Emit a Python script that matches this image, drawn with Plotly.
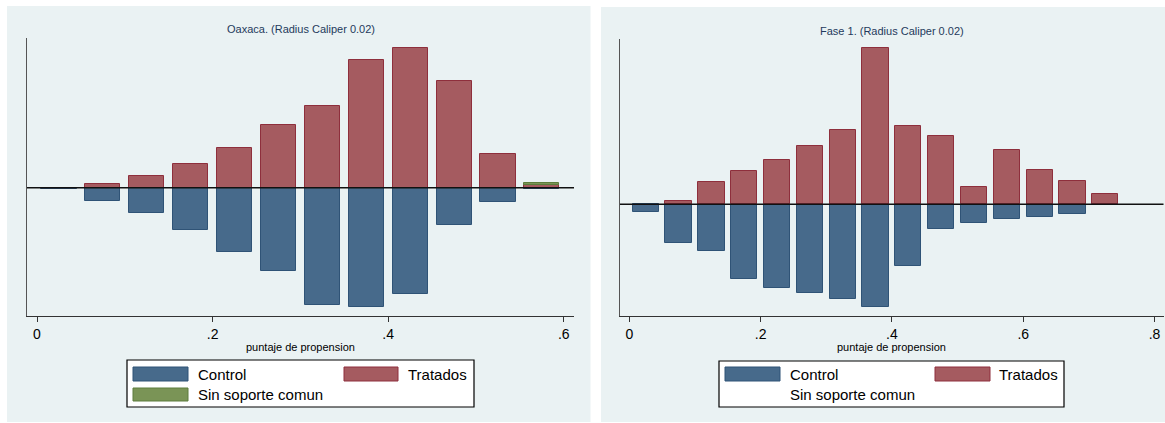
import plotly.graph_objects as go

W, H = 1165, 423

# ---------------- data ----------------
bins_oax = [0.025, 0.075, 0.125, 0.175, 0.225, 0.275, 0.325, 0.375, 0.425, 0.475, 0.525, 0.575]
trat_oax = [0, 10, 34, 70, 118, 189, 245, 384, 420, 321, 101, 7]
ctrl_oax = [5, 41, 75, 126, 192, 250, 351, 357, 318, 112, 43, 4]
sin_oax = [0, 0, 0, 0, 0, 0, 0, 0, 0, 0, 0, 7]

bins_f1 = [0.025, 0.075, 0.125, 0.175, 0.225, 0.275, 0.325, 0.375, 0.425, 0.475,
           0.525, 0.575, 0.625, 0.675, 0.725]
trat_f1 = [0, 9, 67, 98, 133, 174, 222, 467, 235, 204, 52, 163, 102, 70, 30]
ctrl_f1 = [23, 117, 141, 225, 252, 267, 285, 307, 185, 74, 56, 44, 38, 30, 3]

ticks_oax = [0, 0.2, 0.4, 0.6]
ticklab_oax = ["0", ".2", ".4", ".6"]
ticks_f1 = [0, 0.2, 0.4, 0.6, 0.8]
ticklab_f1 = ["0", ".2", ".4", ".6", ".8"]

title_oax = "Oaxaca. (Radius Caliper 0.02)"
title_f1 = "Fase 1. (Radius Caliper 0.02)"
xlabel = "puntaje de propension"

# ---------------- style ----------------
FONT = "Arial, Liberation Sans, sans-serif"
C_CTRL, L_CTRL = "#476a8b", "#2f5376"
C_TRAT, L_TRAT = "#a55b60", "#8e2f3c"
C_SIN, L_SIN = "#7a9456", "#5c7d3c"
PANEL = "#eaf2f3"
TITLE_C = "#1f3a5c"


def px(x):
    return x / W


def py(y):
    return 1 - y / H


def nonzero(xs, ys, sign=1):
    pts = [(x, sign * y) for x, y in zip(xs, ys) if y != 0]
    return [p[0] for p in pts], [p[1] for p in pts]


fig = go.Figure()


def add_bars(xs, ys, sign, color, line, xa, ya):
    bx, by = nonzero(xs, ys, sign)
    fig.add_trace(go.Bar(x=bx, y=by, width=0.04, xaxis=xa, yaxis=ya,
                         marker=dict(color=color, line=dict(color=line, width=1)),
                         showlegend=False))


# left panel
add_bars(bins_oax, ctrl_oax, -1, C_CTRL, L_CTRL, "x", "y")
add_bars(bins_oax, trat_oax, 1, C_TRAT, L_TRAT, "x", "y")
add_bars(bins_oax, sin_oax, 1, C_SIN, L_SIN, "x", "y")
# right panel
add_bars(bins_f1, ctrl_f1, -1, C_CTRL, L_CTRL, "x2", "y2")
add_bars(bins_f1, trat_f1, 1, C_TRAT, L_TRAT, "x2", "y2")

# panel geometry (pixels)
L1 = dict(x0=27, x1=574, y0=38, y1=316)
L2 = dict(x0=620, x1=1163.5, y0=39, y1=316)

axis_common = dict(showgrid=False, zeroline=False, showline=True, linecolor="#333333",
                   linewidth=1.2, ticks="outside", ticklen=5, tickcolor="#333333",
                   tickfont=dict(family=FONT, size=14, color="#000000"), mirror=False)
yaxis_common = dict(showgrid=False, zeroline=False, showline=True, linecolor="#555555",
                    linewidth=1.2, showticklabels=False, ticks="")

fig.update_layout(
    width=W, height=H,
    margin=dict(l=0, r=0, t=0, b=0),
    paper_bgcolor="white", plot_bgcolor="white",
    barmode="relative", bargap=0,
    showlegend=False,
    xaxis=dict(domain=[px(L1["x0"]), px(L1["x1"])], range=[-0.0114, 0.6116],
               tickvals=ticks_oax, ticktext=ticklab_oax, anchor="y", **axis_common),
    yaxis=dict(domain=[py(L1["y1"]), py(L1["y0"])], range=[-385, 449], anchor="x", **yaxis_common),
    xaxis2=dict(domain=[px(L2["x0"]), px(L2["x1"])], range=[-0.0143, 0.8137],
                tickvals=ticks_f1, ticktext=ticklab_f1, anchor="y2", **axis_common),
    yaxis2=dict(domain=[py(L2["y1"]), py(L2["y0"])], range=[-335, 495], anchor="x2", **yaxis_common),
)

shapes = []
# panel backgrounds
shapes.append(dict(type="rect", xref="paper", yref="paper", x0=px(7), x1=px(590.5), y0=py(422), y1=py(6),
                   fillcolor=PANEL, line=dict(width=0), layer="below"))
shapes.append(dict(type="rect", xref="paper", yref="paper", x0=px(601), x1=px(1165), y0=py(422), y1=py(7),
                   fillcolor=PANEL, line=dict(width=0), layer="below"))
# zero lines
shapes.append(dict(type="line", xref="x domain", yref="y", x0=0, x1=1, y0=0, y1=0,
                   line=dict(color="#111111", width=1.5)))
shapes.append(dict(type="line", xref="x2 domain", yref="y2", x0=0, x1=1, y0=0, y1=0,
                   line=dict(color="#111111", width=1.5)))

annotations = []
# titles
annotations.append(dict(text=title_oax, x=px(300.5), y=py(29), xref="paper", yref="paper",
                        showarrow=False, xanchor="center", yanchor="middle",
                        font=dict(family=FONT, size=11, color=TITLE_C)))
annotations.append(dict(text=title_f1, x=px(891.5), y=py(31), xref="paper", yref="paper",
                        showarrow=False, xanchor="center", yanchor="middle",
                        font=dict(family=FONT, size=11, color=TITLE_C)))
# axis titles
annotations.append(dict(text=xlabel, x=px(300.5), y=py(347), xref="paper", yref="paper",
                        showarrow=False, xanchor="center", yanchor="middle",
                        font=dict(family=FONT, size=11, color="#000000")))
annotations.append(dict(text=xlabel, x=px(891.5), y=py(347), xref="paper", yref="paper",
                        showarrow=False, xanchor="center", yanchor="middle",
                        font=dict(family=FONT, size=11, color="#000000")))


def legend(box, items):
    x0, x1, y0, y1 = box
    shapes.append(dict(type="rect", xref="paper", yref="paper", x0=px(x0), x1=px(x1), y0=py(y1), y1=py(y0),
                       fillcolor="white", line=dict(color="#000000", width=1.2)))
    for (sx0, sx1, sy0, sy1, fill, line, tx, ty, label) in items:
        if fill is not None:
            shapes.append(dict(type="rect", xref="paper", yref="paper", x0=px(sx0), x1=px(sx1),
                               y0=py(sy1), y1=py(sy0), fillcolor=fill, line=dict(color=line, width=1)))
        annotations.append(dict(text=label, x=px(tx), y=py(ty), xref="paper", yref="paper",
                                showarrow=False, xanchor="left", yanchor="middle",
                                font=dict(family=FONT, size=15, color="#000000")))


legend((127, 474, 360, 407), [
    (133, 188, 367, 381, C_CTRL, L_CTRL, 196, 374.5, "Control"),
    (344, 398, 367, 381, C_TRAT, L_TRAT, 406, 374.5, "Tratados"),
    (133, 188, 388, 401, C_SIN, L_SIN, 196, 394.5, "Sin soporte comun"),
])
legend((719, 1064, 361, 407), [
    (725, 780, 367, 381, C_CTRL, L_CTRL, 788, 374.5, "Control"),
    (935, 990, 367, 381, C_TRAT, L_TRAT, 997, 374.5, "Tratados"),
    (0, 0, 0, 0, None, None, 788, 394.5, "Sin soporte comun"),
])

fig.update_layout(shapes=shapes, annotations=annotations)

fig.write_html("out.html", config={"displayModeBar": False},
               post_script="document.body.style.margin='0px';document.body.style.overflow='hidden';")
